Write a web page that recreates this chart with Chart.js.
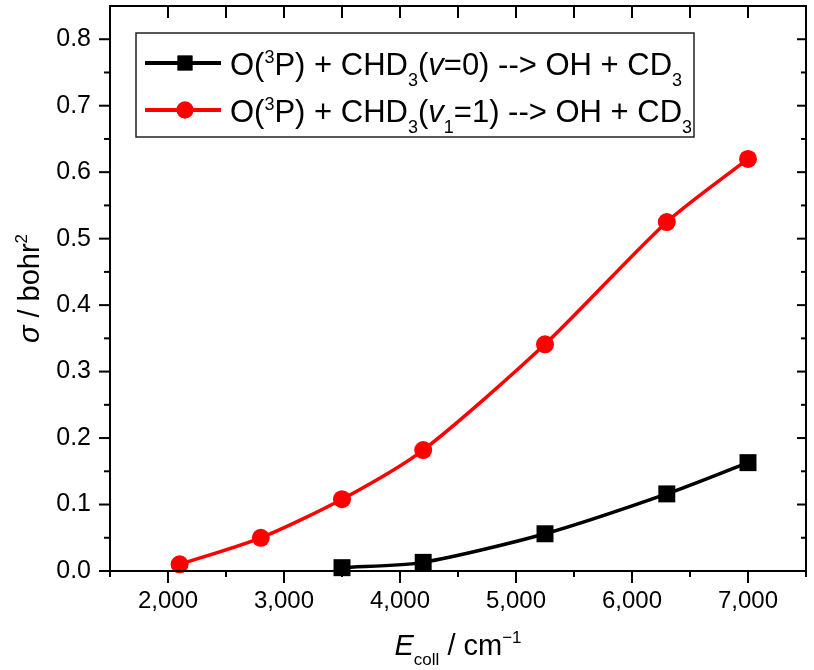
<!DOCTYPE html>
<html>
<head>
<meta charset="utf-8">
<script src="https://cdn.jsdelivr.net/npm/chart.js@4.4.0/dist/chart.umd.min.js"></script>
<style>
  html, body { margin: 0; padding: 0; background: #fff; }
</style>
</head>
<body>
<canvas id="sigmaChart" width="814" height="670"></canvas>
<script>
'use strict';

// collision energies, cm^-1
var energyV0 = [3500, 4200, 5250, 6300, 7000];
var energyV1 = [2100, 2800, 3500, 4200, 5250, 6300, 7000];
// integral cross sections, bohr^2
var sigmaV0 = [0.005, 0.013, 0.056, 0.116, 0.163];
var sigmaV1 = [0.010, 0.050, 0.108, 0.182, 0.341, 0.525, 0.620];

// tick values
var xTicks = [2000, 3000, 4000, 5000, 6000, 7000];
var xMinorTicks = [1500, 2500, 3500, 4500, 5500, 6500, 7500];
var yTicks = [0, 0.1, 0.2, 0.3, 0.4, 0.5, 0.6, 0.7, 0.8];
var yMinorTicks = [0.05, 0.15, 0.25, 0.35, 0.45, 0.55, 0.65, 0.75];

// rich text pieces: [text, kind]  kind = sup | sub | it
var legendV0 = [['O('], ['3', 'sup'], ['P) + CHD'], ['3', 'sub'], ['('], ['v', 'it'], ['=0) --> OH + CD'], ['3', 'sub']];
var legendV1 = [['O('], ['3', 'sup'], ['P) + CHD'], ['3', 'sub'], ['('], ['v', 'it'], ['1', 'sub'], ['=1) --> OH + CD'], ['3', 'sub']];
var xTitle = [['E', 'it'], ['coll', 'sub'], [' / cm'], ['\u22121', 'sup']];
var yTitle = [['\u03c3', 'it'], [' / bohr'], ['2', 'sup']];

var FONT = '"Liberation Sans", Arial, sans-serif';

function pieceFont(p, size) {
  var small = p[1] === 'sup' || p[1] === 'sub';
  return (p[1] === 'it' ? 'italic ' : '') + Math.round(small ? size * 0.6 : size) + 'px ' + FONT;
}

function richWidth(ctx, parts, size) {
  var w = 0;
  parts.forEach(function(p) {
    ctx.font = pieceFont(p, size);
    w += ctx.measureText(p[0]).width;
  });
  return w;
}

function drawRich(ctx, parts, x, y, size) {
  ctx.textBaseline = 'alphabetic';
  ctx.textAlign = 'left';
  parts.forEach(function(p) {
    ctx.font = pieceFont(p, size);
    var dy = 0;
    if (p[1] === 'sup') dy = -size * 0.4;
    if (p[1] === 'sub') dy = size * 0.36;
    ctx.fillText(p[0], x, y + dy);
    x += ctx.measureText(p[0]).width;
  });
}

function fmtThousands(v) {
  return String(v).replace(/\B(?=(\d{3})+(?!\d))/g, ',');
}

// frame, ticks, axis titles and the legend box (drawn by hand because of the sub/superscripts)
var decorations = {
  id: 'decorations',
  afterDraw: function(chart) {
    var ctx = chart.ctx;
    var a = chart.chartArea;
    var xs = chart.scales.x;
    var ys = chart.scales.y;
    ctx.save();
    ctx.strokeStyle = '#000';
    ctx.fillStyle = '#000';
    ctx.lineWidth = 2;
    ctx.strokeRect(a.left, a.top, a.right - a.left, a.bottom - a.top);

    function tick(x1, y1, x2, y2) {
      ctx.beginPath();
      ctx.moveTo(x1, y1);
      ctx.lineTo(x2, y2);
      ctx.stroke();
    }
    xTicks.forEach(function(v) {
      var px = xs.getPixelForValue(v);
      tick(px, a.bottom, px, a.bottom + 12);
      tick(px, a.top, px, a.top + 12);
    });
    xMinorTicks.forEach(function(v) {
      var px = xs.getPixelForValue(v);
      tick(px, a.bottom, px, a.bottom + 6);
      tick(px, a.top, px, a.top + 12);
    });
    yTicks.forEach(function(v) {
      var py = ys.getPixelForValue(v);
      tick(a.left - 11, py, a.left, py);
      tick(a.right - 9, py, a.right, py);
    });
    yMinorTicks.forEach(function(v) {
      var py = ys.getPixelForValue(v);
      tick(a.left - 6, py, a.left, py);
      tick(a.right - 5, py, a.right, py);
    });

    // x axis title
    var ts = 29;
    var w = richWidth(ctx, xTitle, ts);
    drawRich(ctx, xTitle, (a.left + a.right) / 2 - w / 2, 655, ts);

    // y axis title, rotated
    w = richWidth(ctx, yTitle, ts);
    ctx.save();
    ctx.translate(39, (a.top + a.bottom) / 2 + w / 2);
    ctx.rotate(-Math.PI / 2);
    drawRich(ctx, yTitle, 0, 0, ts);
    ctx.restore();

    // legend
    var bx = 136, by = 33, bw = 558, bh = 104;
    ctx.fillStyle = '#fff';
    ctx.fillRect(bx, by, bw, bh);
    ctx.strokeStyle = '#222';
    ctx.lineWidth = 1.5;
    ctx.strokeRect(bx, by, bw, bh);

    var rows = [
      {parts: legendV0, ds: chart.data.datasets[0], y: 63},
      {parts: legendV1, ds: chart.data.datasets[1], y: 110}
    ];
    rows.forEach(function(r) {
      ctx.strokeStyle = r.ds.borderColor;
      ctx.fillStyle = r.ds.backgroundColor;
      ctx.lineWidth = 4;
      tick(145, r.y, 221, r.y);
      Chart.helpers.drawPoint(ctx, {pointStyle: r.ds.pointStyle, radius: r.ds.pointStyle === 'rect' ? 10.5 : 8.5, borderWidth: 0}, 185, r.y);
      ctx.fill();
      ctx.fillStyle = '#000';
      drawRich(ctx, r.parts, 230, r.y + 12, 30.5);
    });
    ctx.restore();
  }
};

function points(xsArr, ysArr) {
  return xsArr.map(function(x, i) { return {x: x, y: ysArr[i]}; });
}

var ctx = document.getElementById('sigmaChart').getContext('2d');
var chart = new Chart(ctx, {
  type: 'line',
  data: {
    datasets: [{
      label: 'v=0',
      data: points(energyV0, sigmaV0),
      borderColor: '#000000',
      backgroundColor: '#000000',
      borderWidth: 3.5,
      pointStyle: 'rect',
      pointRadius: 12,
      pointBorderWidth: 0,
      tension: 0.25,
      clip: false
    }, {
      label: 'v1=1',
      data: points(energyV1, sigmaV1),
      borderColor: '#ff0000',
      backgroundColor: '#ff0000',
      borderWidth: 3.5,
      pointStyle: 'circle',
      pointRadius: 9,
      pointBorderWidth: 0,
      tension: 0.25,
      clip: false
    }]
  },
  options: {
    responsive: false,
    animation: false,
    layout: { autoPadding: false, padding: { top: 6, right: 8, left: 0, bottom: 0 } },
    plugins: {
      legend: { display: false },
      tooltip: { enabled: false }
    },
    scales: {
      x: {
        type: 'linear',
        min: 1500,
        max: 7500,
        afterBuildTicks: function(s) {
          s.ticks = xTicks.map(function(v) { return {value: v}; });
        },
        afterFit: function(s) {
          s.height = 99;
          s.paddingLeft = 0;
          s.paddingRight = 0;
        },
        grid: { display: false, drawTicks: false },
        border: { display: false },
        ticks: {
          color: '#000',
          padding: 16,
          maxRotation: 0,
          font: { family: FONT, size: 24 },
          callback: function(v) { return fmtThousands(v); }
        }
      },
      y: {
        type: 'linear',
        min: 0,
        max: 0.85,
        afterBuildTicks: function(s) {
          s.ticks = yTicks.map(function(v) { return {value: v}; });
        },
        afterFit: function(s) {
          s.width = 110;
          s.paddingTop = 0;
          s.paddingBottom = 0;
        },
        grid: { display: false, drawTicks: false },
        border: { display: false },
        ticks: {
          color: '#000',
          padding: 19,
          font: { family: FONT, size: 25 },
          callback: function(v) { return v.toFixed(1); }
        }
      }
    }
  },
  plugins: [decorations]
});
</script>
</body>
</html>
